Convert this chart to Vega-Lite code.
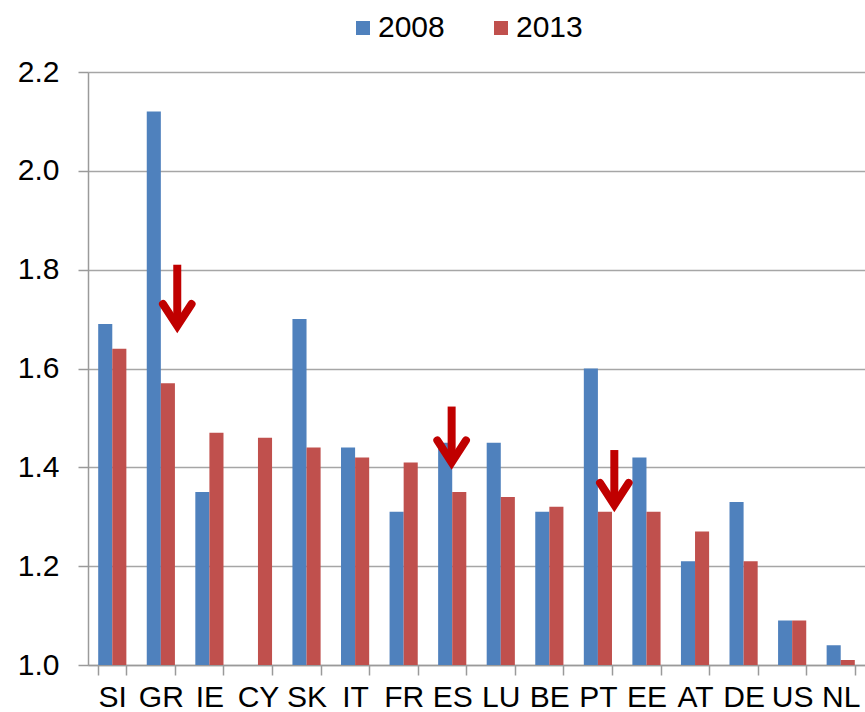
{
  "$schema": "https://vega.github.io/schema/vega-lite/v6.json",
  "width": 777,
  "height": 593,
  "autosize": "none",
  "padding": {"left": 88, "top": 72, "right": 0, "bottom": 47},
  "background": "white",
  "config": {
    "font": "Liberation Sans",
    "view": {"stroke": null},
    "axis": {"labelColor": "#000000", "labelFont": "Liberation Sans", "labelFontSize": 30, "domainColor": "#9a9a9a", "tickColor": "#9a9a9a", "domainWidth": 1.5, "tickWidth": 1.5}
  },
  "datasets": {
    "bars": [
      {"country": "SI", "year": "2008", "value": 1.69},
      {"country": "SI", "year": "2013", "value": 1.64},
      {"country": "GR", "year": "2008", "value": 2.12},
      {"country": "GR", "year": "2013", "value": 1.57},
      {"country": "IE", "year": "2008", "value": 1.35},
      {"country": "IE", "year": "2013", "value": 1.47},
      {"country": "CY", "year": "2008", "value": null},
      {"country": "CY", "year": "2013", "value": 1.46},
      {"country": "SK", "year": "2008", "value": 1.70},
      {"country": "SK", "year": "2013", "value": 1.44},
      {"country": "IT", "year": "2008", "value": 1.44},
      {"country": "IT", "year": "2013", "value": 1.42},
      {"country": "FR", "year": "2008", "value": 1.31},
      {"country": "FR", "year": "2013", "value": 1.41},
      {"country": "ES", "year": "2008", "value": 1.45},
      {"country": "ES", "year": "2013", "value": 1.35},
      {"country": "LU", "year": "2008", "value": 1.45},
      {"country": "LU", "year": "2013", "value": 1.34},
      {"country": "BE", "year": "2008", "value": 1.31},
      {"country": "BE", "year": "2013", "value": 1.32},
      {"country": "PT", "year": "2008", "value": 1.60},
      {"country": "PT", "year": "2013", "value": 1.31},
      {"country": "EE", "year": "2008", "value": 1.42},
      {"country": "EE", "year": "2013", "value": 1.31},
      {"country": "AT", "year": "2008", "value": 1.21},
      {"country": "AT", "year": "2013", "value": 1.27},
      {"country": "DE", "year": "2008", "value": 1.33},
      {"country": "DE", "year": "2013", "value": 1.21},
      {"country": "US", "year": "2008", "value": 1.09},
      {"country": "US", "year": "2013", "value": 1.09},
      {"country": "NL", "year": "2008", "value": 1.04},
      {"country": "NL", "year": "2013", "value": 1.01}
    ],
    "arrows": [
      {"country": "GR", "bar": "2013", "top": 1.81, "tip": 1.686},
      {"country": "ES", "bar": "2008", "top": 1.523, "tip": 1.41},
      {"country": "PT", "bar": "2013", "top": 1.435, "tip": 1.324}
    ]
  },
  "resolve": {"scale": {"xOffset": "independent"}},
  "encoding": {
    "x": {
      "field": "country", "type": "nominal", "sort": null,
      "scale": {"domain": ["SI","GR","IE","CY","SK","IT","FR","ES","LU","BE","PT","EE","AT","DE","US","NL"], "paddingInner": 0.42, "paddingOuter": 0.21},
      "axis": {"title": null, "labelAngle": 0, "tickBand": "extent", "tickSize": 10, "labelPadding": 7, "grid": false}
    }
  },
  "layer": [
    {
      "data": {"name": "bars"},
      "mark": {"type": "bar", "clip": true},
      "encoding": {
        "xOffset": {"field": "year", "type": "nominal", "scale": {"domain": ["2008", "2013"], "paddingInner": 0, "paddingOuter": 0}},
        "y": {
          "field": "value", "type": "quantitative",
          "scale": {"domain": [1.0, 2.2], "zero": false, "nice": false},
          "axis": {"title": null, "values": [1.0, 1.2, 1.4, 1.6, 1.8, 2.0, 2.2], "format": ".1f", "grid": true, "gridColor": "#a6a6a6", "gridWidth": 1.5, "tickSize": 10, "labelPadding": 19}
        },
        "color": {
          "field": "year", "type": "nominal",
          "scale": {"domain": ["2008", "2013"], "range": ["#4F81BD", "#C0504D"]},
          "legend": {"title": null, "orient": "none", "direction": "horizontal", "legendX": 260, "legendY": -59, "symbolType": "square", "symbolSize": 196, "symbolStrokeWidth": 0, "labelFontSize": 30, "labelColor": "#000000", "labelOffset": 0, "columnPadding": 41, "padding": 0}
        }
      }
    },
    {
      "data": {"name": "arrows"},
      "encoding": {
        "xOffset": {"field": "bar", "type": "nominal", "scale": {"domain": ["2008", "2013"], "range": [5, 39], "paddingInner": 0, "paddingOuter": 0}}
      },
      "layer": [
        {
          "mark": {"type": "rule", "color": "#C00000", "strokeWidth": 8, "strokeCap": "butt"},
          "encoding": {
            "y": {"field": "top", "type": "quantitative"},
            "y2": {"field": "tip"}
          }
        },
        {
          "mark": {"type": "point", "shape": "M-0.65,-1L0,0L0.65,-1", "size": 1936, "filled": false, "stroke": "#C00000", "strokeWidth": 8, "strokeCap": "round", "strokeJoin": "miter", "opacity": 1},
          "encoding": {
            "y": {"field": "tip", "type": "quantitative"}
          }
        }
      ]
    }
  ]
}
